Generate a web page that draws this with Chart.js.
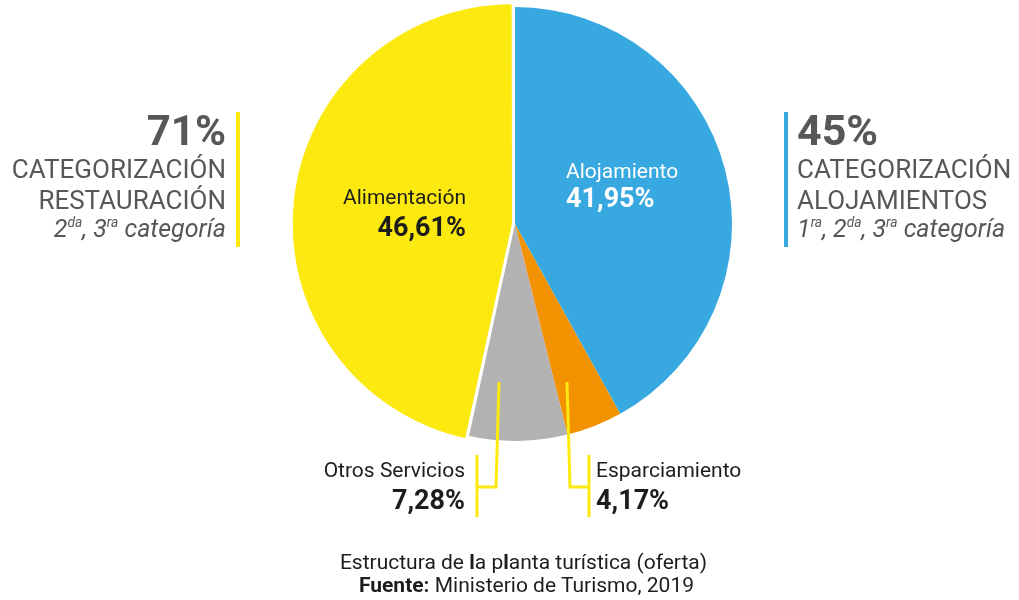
<!DOCTYPE html>
<html>
<head>
<meta charset="utf-8">
<script src="https://cdn.jsdelivr.net/npm/chart.js@4"></script>
<style>
  body { margin: 0; background: #fff; font-family: Roboto, sans-serif; }
  #wrap { position: relative; width: 1019px; height: 600px; overflow: hidden; }
  #wrap canvas { position: absolute; left: 0; top: -20px; }
  .t { position: absolute; line-height: 1; white-space: nowrap; }
  .side { color: #575756; }
  .bar { position: absolute; width: 4px; }
  sup { font-size: 0.55em; vertical-align: 0.7em; line-height: 0; }
</style>
</head>
<body>
<div id="wrap">
  <canvas id="pie" width="1019" height="620"></canvas>

  <div class="bar" style="left:236px; top:112px; height:135px; background:#fce90f;"></div>
  <div class="bar" style="left:784px; top:112px; height:135px; background:#38a9e0;"></div>

  <div class="t side" style="right:793px; top:110px; font-size:42px; font-weight:bold;">71%</div>
  <div class="t side" style="right:793px; top:156px; font-size:26px;">CATEGORIZACIÓN</div>
  <div class="t side" style="right:793px; top:187px; font-size:26px;">RESTAURACIÓN</div>
  <div class="t side" style="right:793px; top:216px; font-size:25px; font-style:italic;">2<sup>da</sup>, 3<sup>ra</sup> categoría</div>

  <div class="t side" style="left:797px; top:109px; font-size:43px; font-weight:bold;">45%</div>
  <div class="t side" style="left:797px; top:156px; font-size:26px;">CATEGORIZACIÓN</div>
  <div class="t side" style="left:797px; top:187px; font-size:26px;">ALOJAMIENTOS</div>
  <div class="t side" style="left:797px; top:216px; font-size:25px; font-style:italic;">1<sup>ra</sup>, 2<sup>da</sup>, 3<sup>ra</sup> categoría</div>

  <div id="labels"></div>

  <div class="t" style="left:0; width:1047px; text-align:center; top:552px; font-size:21px; color:#1d1d1b;">Estructura de <b>l</b>a p<b>l</b>anta turística (oferta)</div>
  <div class="t" style="left:0; width:1053px; text-align:center; top:575px; font-size:21px; color:#1d1d1b;"><b>Fuente:</b> Ministerio de Turismo, 2019</div>
</div>

<script>
// data
const categories = ['Alojamiento', 'Esparciamiento', 'Otros Servicios', 'Alimentación'];
const shares = [41.95, 4.17, 7.28, 46.61];
const sliceColors = ['#38a9e0', '#f39200', '#b2b2b2', '#fce90f'];
const sliceOffsets = [0, 0, 0, 12];

// slice labels: text position + alignment + colour
const labelSpots = [
  { left: 566, nameTop: 161, valTop: 185, color: '#ffffff' },
  { left: 596, nameTop: 460, valTop: 487, color: '#1d1d1b' },
  { right: 465, nameTop: 460, valTop: 487, color: '#1d1d1b' },
  { right: 466, nameTop: 187, valTop: 214, color: '#1d1d1b' }
];

function fmt(v) {
  return v.toFixed(2).replace('.', ',') + '%';
}

const labelBox = document.getElementById('labels');
categories.forEach(function(name, i) {
  const s = labelSpots[i];
  const side = s.left !== undefined ? 'left:' + s.left + 'px;' : 'right:' + (1019 - s.right) + 'px;';
  labelBox.innerHTML +=
    '<div class="t" style="' + side + 'top:' + s.nameTop + 'px;font-size:21px;color:' + s.color + ';">' + name + '</div>' +
    '<div class="t" style="' + side + 'top:' + s.valTop + 'px;font-size:27px;font-weight:bold;color:' + s.color + ';">' + fmt(shares[i]) + '</div>';
});

// leader lines for the two small slices
const leaderLines = {
  id: 'leaderLines',
  afterDraw(chart) {
    const arc = chart.getDatasetMeta(0).data[0];
    const cx = arc.x, cy = arc.y;
    const ctx = chart.ctx;
    ctx.save();
    ctx.strokeStyle = '#fce90f';
    ctx.lineWidth = 3;
    // Otros Servicios
    ctx.beginPath();
    ctx.moveTo(cx - 16, cy + 158);
    ctx.lineTo(cx - 19, cy + 263);
    ctx.lineTo(cx - 38, cy + 263);
    ctx.moveTo(cx - 38, cy + 231);
    ctx.lineTo(cx - 38, cy + 293);
    // Esparciamiento
    ctx.moveTo(cx + 52, cy + 158);
    ctx.lineTo(cx + 55, cy + 263);
    ctx.lineTo(cx + 74, cy + 263);
    ctx.moveTo(cx + 74, cy + 231);
    ctx.lineTo(cx + 74, cy + 293);
    ctx.stroke();
    ctx.restore();
  }
};

new Chart(document.getElementById('pie'), {
  type: 'pie',
  data: {
    labels: categories,
    datasets: [{
      data: shares,
      backgroundColor: sliceColors,
      borderWidth: 0,
      offset: sliceOffsets,
      hoverOffset: 0
    }]
  },
  options: {
    responsive: false,
    animation: false,
    layout: {
      padding: { left: 292, right: 281, top: 21, bottom: 153 }
    },
    plugins: {
      legend: { display: false },
      tooltip: { enabled: false }
    }
  },
  plugins: [leaderLines]
});
</script>
</body>
</html>
